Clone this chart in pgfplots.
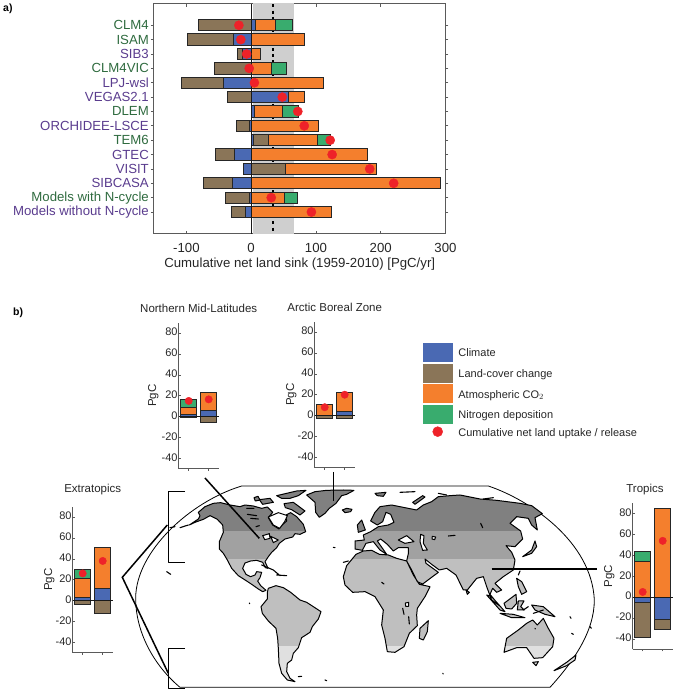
\documentclass[border=0pt]{standalone}
\usepackage{pgfplots}
\pgfplotsset{compat=1.18}
\usepackage{fontspec}
\setmainfont{Liberation Sans}
\definecolor{cBlue}{HTML}{4A69B3}
\definecolor{cBrown}{HTML}{8A7558}
\definecolor{cOrange}{HTML}{F47F2D}
\definecolor{cGreen}{HTML}{39AC6E}
\definecolor{cRed}{HTML}{EE2229}
\definecolor{cG}{HTML}{2F6B3F}
\definecolor{cP}{HTML}{5A3C8E}
\definecolor{axc}{HTML}{5A5A5A}
\newcommand{\fs}[1]{\fontsize{#1}{#1}\selectfont}
\pgfplotsset{
  small/.style={
    scale only axis, width=40pt, height=146pt,
    xmin=0.5, xmax=2.5, ymin=-50, ymax=90,
    axis lines*=left, axis line style={axc,line width=0.8pt},
    tick align=inside, major tick length=2pt,
    tick style={axc,line width=0.6pt},
    xtick={1,2}, xticklabels={,},
    ytick={-40,-20,0,20,40,60,80},
    yticklabels={-40,-20,0,20,40,60,80},
    yticklabel style={font=\fs{11}, text=black!85, inner sep=1pt, yshift=1pt},
    ylabel={PgC}, ylabel style={font=\fs{11.5}, text=black!85, inner sep=0pt},
    ybar, bar width=16pt, bar shift=0pt, clip=false,
  },
  seg/.style={draw=black!85, line width=1pt, fill=#1},
  dots/.style={only marks, mark=*, mark size=#1, mark options={draw=none, fill=cRed}, color=cRed},
}
% ---------- land outline traced from the map, in zoom coordinates ----------
\def\landpath{
 % North America
 (205,112)--(225,95)--(250,85)--(272,83)--(300,90)--(330,95)--(345,90)--(370,93)--(395,100)--(412,96)--(428,112)--(415,128)--(428,150)--(447,162)--(456,150)--(470,138)--(468,120)--(482,113)--(500,125)--(520,148)--(527,170)--(510,178)--(495,176)--(488,186)--(465,192)--(448,205)--(440,218)--(425,232)--(415,245)--(405,260)--(414,280)--(406,278)--(398,262)--(380,256)--(362,258)--(345,264)--(338,280)--(348,298)--(362,305)--(375,300)--(380,290)--(395,292)--(390,308)--(383,318)--(392,332)--(408,346)--(398,350)--(385,342)--(368,330)--(350,318)--(325,302)--(305,280)--(292,255)--(280,235)--(268,222)--(268,200)--(280,172)--(278,150)--(262,133)--(240,122)--(220,133)--(195,142)--(178,150)--(205,132)--(210,122)--cycle
 % Greenland
 (530,60)--(555,50)--(590,46)--(640,45)--(672,46)--(650,58)--(635,62)--(618,85)--(598,100)--(585,115)--(568,127)--(557,112)--(555,82)--cycle
 % Iceland
 (637,105)--(650,100)--(666,103)--(662,110)--(645,113)--cycle
 % South America
 (415,340)--(438,332)--(460,338)--(482,352)--(510,375)--(530,382)--(550,395)--(573,410)--(565,432)--(547,455)--(540,472)--(515,488)--(505,518)--(490,535)--(485,555)--(472,565)--(470,590)--(480,610)--(495,620)--(472,615)--(455,595)--(447,565)--(445,520)--(443,490)--(438,460)--(415,438)--(397,415)--(393,395)--(412,372)--(412,352)--cycle
 % Africa
 (640,305)--(650,272)--(678,238)--(700,228)--(725,226)--(748,238)--(775,240)--(800,250)--(830,258)--(850,300)--(868,328)--(900,335)--(885,365)--(862,400)--(860,420)--(862,452)--(838,475)--(822,515)--(795,532)--(772,530)--(765,490)--(755,450)--(760,405)--(735,365)--(705,350)--(668,352)--(645,330)--cycle
 % Eurasia
 (675,222)--(675,198)--(703,195)--(700,180)--(722,170)--(745,155)--(775,150)--(792,142)--(782,118)--(768,112)--(758,140)--(742,150)--(722,138)--(735,112)--(750,95)--(785,90)--(825,98)--(860,105)--(880,90)--(905,80)--(925,65)--(960,62)--(990,60)--(1050,72)--(1100,76)--(1170,85)--(1205,92)--(1237,116)--(1215,128)--(1222,165)--(1205,150)--(1195,130)--(1160,125)--(1140,145)--(1172,168)--(1178,192)--(1155,215)--(1128,212)--(1145,232)--(1155,255)--(1150,285)--(1120,305)--(1095,325)--(1115,345)--(1100,352)--(1088,340)--(1080,358)--(1108,392)--(1085,375)--(1070,335)--(1060,305)--(1040,310)--(1012,345)--(1000,345)--(978,300)--(950,280)--(928,285)--(905,268)--(885,252)--(888,265)--(925,292)--(878,327)--(862,320)--(845,285)--(830,258)--(835,236)--(835,218)--(805,218)--(790,228)--(772,208)--(752,192)--(742,198)--(770,238)--(750,225)--(730,200)--(708,205)--(697,226)--cycle
 % Great Britain and Ireland
 (682,150)--(695,135)--(706,165)--(685,172)--cycle
 % Svalbard
 (735,55)--(768,52)--(760,64)--(742,62)--cycle
 % Novaya Zemlya
 (848,82)--(878,62)--(885,66)--(855,88)--cycle
 % Madagascar
 (868,490)--(870,460)--(895,437)--(892,470)--(880,495)--cycle
 % Japan
 (1178,245)--(1205,225)--(1215,198)--(1220,215)--(1205,235)--cycle
 % Sumatra
 (1070,360)--(1085,365)--(1125,410)--(1110,405)--cycle
 % Java
 (1110,415)--(1150,418)--(1185,428)--(1145,428)--cycle
 % Borneo
 (1122,385)--(1158,358)--(1160,385)--(1145,402)--(1128,400)--cycle
 % Sulawesi
 (1165,378)--(1182,378)--(1172,395)--(1183,405)--(1162,405)--cycle
 % Philippines
 (1160,310)--(1175,320)--(1190,350)--(1175,358)--(1165,335)--cycle
 % New Guinea
 (1205,390)--(1240,395)--(1275,425)--(1245,418)--(1215,405)--cycle
 % Australia
 (1122,532)--(1130,490)--(1165,465)--(1190,445)--(1208,435)--(1222,450)--(1240,430)--(1255,460)--(1272,490)--(1268,515)--(1238,548)--(1212,550)--(1190,518)--(1160,518)--cycle
 % Tasmania
 (1208,562)--(1225,560)--(1218,572)--cycle
 % New Zealand
 (1272,587)--(1310,562)--(1338,540)--(1335,555)--(1310,572)--cycle
 % Sri Lanka
 (1008,345)--(1018,352)--(1012,358)--cycle
 % Canadian Arctic islands
 (440,62)--(500,48)--(528,46)--(505,62)--(480,70)--(455,70)--cycle
 (462,86)--(490,82)--(525,108)--(510,120)--(485,104)--(466,98)--cycle
 (388,74)--(420,70)--(430,82)--(398,88)--cycle
 (372,68)--(384,64)--(390,75)--(376,78)--cycle
}
\begin{document}
\begin{tikzpicture}[x=1pt,y=1pt]
\path[use as bounding box] (0,0) rectangle (675,691);
\node[anchor=west, inner sep=0pt, font=\bfseries\fs{10.5}] at (3,682) {a)};
\node[anchor=west, inner sep=0pt, font=\bfseries\fs{10.5}] at (13,378) {b)};

% ===== panel a =====
\begin{axis}[
  at={(154pt,457pt)}, anchor=south west, scale only axis, width=291.5pt, height=230pt,
  xmin=-150, xmax=300, y dir=reverse, ymin=-1.48, ymax=14.53,
  axis line style={axc,line width=1pt},
  tick align=inside, major tick length=3pt, tick style={axc,line width=0.7pt},
  xtick={-100,0,100,200,300}, xticklabels={-100,0,100,200,300},
  xticklabel style={font=\fs{13.2}, text=black!85, inner sep=1pt, yshift=-8pt},
  xlabel={Cumulative net land sink (1959-2010) [PgC/yr]},
  xlabel style={font=\fs{13.2}, text=black!85, inner sep=0pt, yshift=-4pt},
  ytick={0,...,13},
  yticklabels={\textcolor{cG}{CLM4},\textcolor{cG}{ISAM},\textcolor{cP}{SIB3},\textcolor{cG}{CLM4VIC},\textcolor{cP}{LPJ-wsl},\textcolor{cP}{VEGAS2.1},\textcolor{cG}{DLEM},\textcolor{cP}{ORCHIDEE-LSCE},\textcolor{cG}{TEM6},\textcolor{cP}{GTEC},\textcolor{cP}{VISIT},\textcolor{cP}{SIBCASA},\textcolor{cG}{Models with N-cycle},\textcolor{cP}{Models without N-cycle}},
  yticklabel style={font=\fs{13.2}, inner sep=1pt, xshift=-1pt},
  xbar, bar width=11.3pt, bar shift=0pt,
]
% grey reference range
\addplot[xbar=0pt, draw=none, fill=black!19, forget plot, sharp plot, area legend] coordinates {(3,-2) (66,-2) (66,15) (3,15)} --cycle;
\addplot[sharp plot, black, line width=2pt, dash pattern=on 3pt off 3.2pt, forget plot] coordinates {(34,-1.45) (34,14.5)};
% cumulative ends of the stacked segments, drawn outermost first
\addplot[seg=cGreen] coordinates {(64,0) (54,3) (73,6) (122,8) (71,12)};
\addplot[seg=cOrange] coordinates {(38,0) (82,1) (15,2) (31,3) (112,4) (83,5) (48,6) (104,7) (102,8) (179,9) (194,10) (293,11) (52,12) (124,13)};
\addplot[seg=cBrown] coordinates {(-81,0) (-99,1) (-21,2) (-57,3) (-107,4) (-36,5) (-22,7) (27,8) (-55,9) (53,10) (-73,11) (-40,12) (-31,13)};
\addplot[seg=cBlue] coordinates {(6,0) (-27,1) (-13,2) (-43,4) (58,5) (5,6) (-3,7) (4,8) (-26,9) (-12,10) (-29,11) (-2,12) (-9,13)};
\addplot[sharp plot, black!90, line width=0.9pt] coordinates {(0,-1.48) (0,14.53)};
\addplot[dots=4.6pt] coordinates {(-19,0) (-16,1) (-7,2) (-3,3) (5,4) (48,5) (72,6) (82,7) (122,8) (125,9) (183,10) (220,11) (31,12) (93,13)};
\end{axis}

% ===== world map =====
\begin{scope}[shift={(130,216)}, x=0.33333pt, y=-0.33333pt, line join=round]
  \draw[black, line width=0.8pt, fill=white]
    (335,33)--(1075,33) .. controls (1200,75) and (1385,200) .. (1393,375)
    .. controls (1393,470) and (1330,560) .. (1260,637) -- (150,637)
    .. controls (70,570) and (17,470) .. (17,370)
    .. controls (17,230) and (180,80) .. (335,33) -- cycle;
  \begin{scope}
    \clip \landpath;
    \fill[black!50] (0,0) rectangle (1440,167);
    \fill[black!37] (0,167) rectangle (1440,252);
    \fill[black!25] (0,252) rectangle (1440,513);
    \fill[black!12] (0,513) rectangle (1440,660);
  \end{scope}
  \draw[black, line width=1pt] \landpath;
  % inland waters
  \draw[black, line width=1pt, fill=white]
    (415,126)--(445,113)--(472,122)--(464,140)--(449,160)--(430,150)--cycle
    (398,182)--(418,176)--(420,190)--(404,194)--cycle
    (422,184)--(445,195)--(430,203)--cycle
    (805,195)--(830,182)--(852,200)--(825,205)--cycle
    (872,178)--(882,182)--(880,205)--(892,225)--(878,226)--(870,200)--cycle
    (907,184)--(917,186)--(914,194)--(906,192)--cycle
    (826,384)--(836,382)--(836,394)--(827,394)--cycle;
  % small islands and lakes as strokes
  \draw[black, line width=1.1pt, line cap=round]
    (395,270)--(430,285)--(450,302) (440,300)--(470,302) (350,100)--(372,100)
    (352,118)--(380,122) (362,130)--(385,132) (378,155)--(388,152)
    (1052,145)--(1058,158) (955,183)--(975,181) (818,400)--(822,418)
    (836,425)--(838,447) (755,322)--(762,327) (110,290)--(122,298)
    (358,384)--(359,386) (938,595)--(940,597) (505,605)--(515,604)
    (585,615)--(590,617) (1165,300)--(1170,288) (1180,405)--(1195,395)
    (1210,415)--(1240,405) (1320,425)--(1323,430) (1325,475)--(1330,478)
    (1380,455)--(1384,460) (810,52)--(855,50) (925,55)--(950,60)
    (1060,72)--(1090,68) (1215,460)--(1216,462) (610,217)--(615,218)
    (640,262)--(655,258) (120,158)--(135,155) (150,158)--(175,150);
  % brackets
  \draw[black, line width=1.5pt] (165,50)--(115,50)--(115,262)--(165,262);
  \draw[black, line width=1.5pt] (165,520)--(115,520)--(115,640)--(165,640);
\end{scope}
% connectors
\draw[black, line width=1.5pt] (167.3,166) -- (122.3,113.7) -- (168.3,17.7);
\draw[black, line width=1.5pt] (205,213) -- (259.3,152.7);
\draw[black, line width=1.5pt] (333.3,219) -- (333.3,190);
\draw[black, line width=1.5pt] (491.7,122) -- (596.7,122);

% ===== Northern Mid-Latitudes =====
\begin{axis}[small, at={(178.7pt,222.3pt)}, anchor=south west, ylabel style={yshift=2pt}]
\node[font=\fs{11.5}, text=black!85, inner sep=0pt] at (axis cs:1.5,104) {Northern Mid-Latitudes};
\addplot[seg=cGreen] coordinates {(1,16)};
\addplot[seg=cOrange] coordinates {(1,9) (2,23)};
\addplot[seg=cBrown] coordinates {(1,-1) (2,-6)};
\addplot[seg=cBlue] coordinates {(1,2) (2,6)};
\addplot[sharp plot, black!90, line width=0.8pt] coordinates {(0.5,0) (2.5,0)};
\addplot[dots=3.7pt] coordinates {(1,15) (2,16.5)};
\end{axis}
% ===== Arctic Boreal Zone =====
\begin{axis}[small, at={(314.7pt,223.3pt)}, anchor=south west]
\node[font=\fs{11.5}, text=black!85, inner sep=0pt] at (axis cs:1.5,104) {Arctic Boreal Zone};
\addplot[seg=cOrange] coordinates {(1,11) (2,22)};
\addplot[seg=cBrown] coordinates {(1,-3) (2,-3)};
\addplot[seg=cBlue] coordinates {(2,4)};
\addplot[sharp plot, black!90, line width=0.8pt] coordinates {(0.5,0) (2.5,0)};
\addplot[dots=3.7pt] coordinates {(1,8) (2,20)};
\end{axis}
% ===== Extratopics =====
\begin{axis}[small, at={(72.7pt,38.3pt)}, anchor=south west]
\node[font=\fs{11.5}, text=black!85, inner sep=0pt] at (axis cs:1.5,106) {Extratopics};
\addplot[seg=cGreen] coordinates {(1,29.5)};
\addplot[seg=cOrange] coordinates {(1,21) (2,50.6)};
\addplot[seg=cBrown] coordinates {(1,-4) (2,-12)};
\addplot[seg=cBlue] coordinates {(1,3) (2,12)};
\addplot[sharp plot, black!90, line width=0.8pt] coordinates {(0.5,0) (2.5,0)};
\addplot[dots=3.7pt] coordinates {(1,26) (2,38)};
\end{axis}
% ===== Tropics =====
\begin{axis}[small, at={(632.7pt,41.7pt)}, anchor=south west]
\node[font=\fs{11.5}, text=black!85, inner sep=0pt] at (axis cs:1.115,103) {Tropics};
\addplot[seg=cGreen] coordinates {(1,44)};
\addplot[seg=cOrange] coordinates {(1,34) (2,85)};
\addplot[seg=cBrown] coordinates {(1,-38.5) (2,-31)};
\addplot[seg=cBlue] coordinates {(1,-5) (2,-21)};
\addplot[sharp plot, black!90, line width=0.8pt] coordinates {(0.5,0) (2.5,0)};
\addplot[dots=3.7pt] coordinates {(1,5) (2,54)};
\end{axis}

% ===== legend =====
\begin{axis}[
  at={(423pt,250pt)}, anchor=south west, scale only axis, width=240pt, height=98pt,
  hide axis, xmin=0, xmax=1, ymin=0, ymax=1,
  legend style={at={(0,1)}, anchor=north west, draw=none, fill=none, inner sep=0pt, outer sep=0pt,
    font=\fs{11}, text=black!85, row sep=2.2pt, nodes={inner sep=0pt}},
  legend cell align=left,
]
\addlegendimage{legend image code/.code={\fill[cBlue] (0pt,-9pt) rectangle (29pt,9pt);}}
\addlegendentry{\hspace{6pt}Climate\rule[-7pt]{0pt}{18pt}}
\addlegendimage{legend image code/.code={\fill[cBrown] (0pt,-9pt) rectangle (29pt,9pt);}}
\addlegendentry{\hspace{6pt}Land-cover change\rule[-7pt]{0pt}{18pt}}
\addlegendimage{legend image code/.code={\fill[cOrange] (0pt,-9pt) rectangle (29pt,9pt);}}
\addlegendentry{\hspace{6pt}Atmospheric CO$_2$\rule[-7pt]{0pt}{18pt}}
\addlegendimage{legend image code/.code={\fill[cGreen] (0pt,-9pt) rectangle (29pt,9pt);}}
\addlegendentry{\hspace{6pt}Nitrogen deposition\rule[-7pt]{0pt}{18pt}}
\addlegendimage{legend image code/.code={\fill[cRed] (14.5pt,0pt) circle (5pt);}}
\addlegendentry{\hspace{6pt}Cumulative net land uptake / release\rule[-7pt]{0pt}{18pt}}
\end{axis}
\end{tikzpicture}
\end{document}
